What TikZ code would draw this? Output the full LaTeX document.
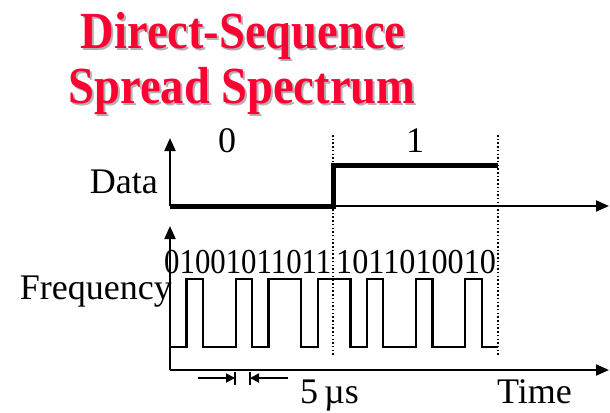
\documentclass[tikz,border=0pt]{standalone}
\usepackage{fontspec}
\setmainfont{Liberation Serif}
\usetikzlibrary{arrows.meta}
\definecolor{titlered}{HTML}{FF0033}
\newcommand{\shadowtext}[1]{\rlap{\kern2bp\raisebox{-2bp}{\color{black!30}#1}}#1}
\tikzset{
  axis/.style={line width=2bp,-{Triangle[length=13bp,width=11bp]}},
  datasig/.style={line width=5bp},
  chipsig/.style={line width=2.2bp,line join=miter},
  guide/.style={line width=1.5bp,dash pattern=on 1.5bp off 2.2bp},
  lbl/.style={inner sep=0pt,font=\fontsize{36bp}{40bp}\selectfont},
  chiptxt/.style={inner sep=0pt,font=\fontsize{35bp}{38bp}\selectfont},
  ttl/.style={inner sep=0pt,font=\fontsize{46.5bp}{50bp}\selectfont\bfseries},
  dim/.style={line width=1.8bp,-{Triangle[length=9bp,width=9bp]}},
  tick/.style={line width=2bp}
}
\begin{document}
\begin{tikzpicture}[x=1bp,y=-1bp]
\useasboundingbox (0,0) rectangle (610,412);
% title
\node[ttl,text=titlered,anchor=base] (t1) at (243,48) {\scalebox{1}[1.12]{\shadowtext{Direct-Sequence}}};
\node[ttl,text=titlered,anchor=base] (t2) at (242,103) {\scalebox{1}[1.12]{\shadowtext{Spread Spectrum}}};
% coordinates
\coordinate (dO) at (170,206);
\coordinate (dY) at (170,138);
\coordinate (dX) at (609,206);
\coordinate (fO) at (170,370);
\coordinate (fY) at (170,226);
\coordinate (fX) at (609,370);
\coordinate (g1t) at (333,135);
\coordinate (g1b) at (333,357);
\coordinate (g2t) at (498,135);
\coordinate (g2b) at (498,357);
% guides
\draw[guide] (g1t) -- (g1b);
\draw[guide] (g2t) -- (g2b);
% axes
\draw[axis] (dO) -- (dY);
\draw[axis] (dO) -- (dX);
\draw[axis] (fO) -- (fY);
\draw[axis] (fO) -- (fX);
% data signal
\draw[datasig] (dO) -- (333,206) -- (333,165) -- (498,165);
% chip signal 0100101101 1010010010
\draw[chipsig] (170,347) -- (186.4,347) -- (186.4,279) -- (202.8,279) -- (202.8,347)
  -- (235.6,347) -- (235.6,279) -- (252,279) -- (252,347) -- (268.4,347) -- (268.4,279)
  -- (301.2,279) -- (301.2,347) -- (317.6,347) -- (317.6,279) -- (350.4,279) -- (350.4,347)
  -- (366.8,347) -- (366.8,279) -- (383.2,279) -- (383.2,347) -- (416,347) -- (416,279)
  -- (432.4,279) -- (432.4,347) -- (465.2,347) -- (465.2,279) -- (481.6,279) -- (481.6,347)
  -- (498,347);
% labels
\node[lbl,anchor=base] (b0) at (227,152) {0};
\node[lbl,anchor=base] (b1) at (415,152) {1};
\node[lbl,anchor=base east] (data) at (158,193) {Data};
\node[lbl,anchor=base east] (freq) at (172,299) {Frequency};
\node[lbl,anchor=base west] (time) at (497,403) {Time};
\node[lbl,anchor=base west] (us) at (300,403) {5\,µs};
\node[chiptxt,anchor=base west] (c1) at (164,273) {\scalebox{0.88}[1]{01001011011}};
\node[chiptxt,anchor=base west] (c2) at (336,273) {\scalebox{0.92}[1]{1011010010}};
% dimension
\coordinate (a1s) at (198,378);
\coordinate (a1e) at (235,378);
\coordinate (a2s) at (288,378);
\coordinate (a2e) at (250,378);
\draw[dim] (a1s) -- (a1e);
\draw[dim] (a2s) -- (a2e);
\draw[tick] (235,372) -- (235,385);
\draw[tick] (250,372) -- (250,385);
\end{tikzpicture}
\end{document}
